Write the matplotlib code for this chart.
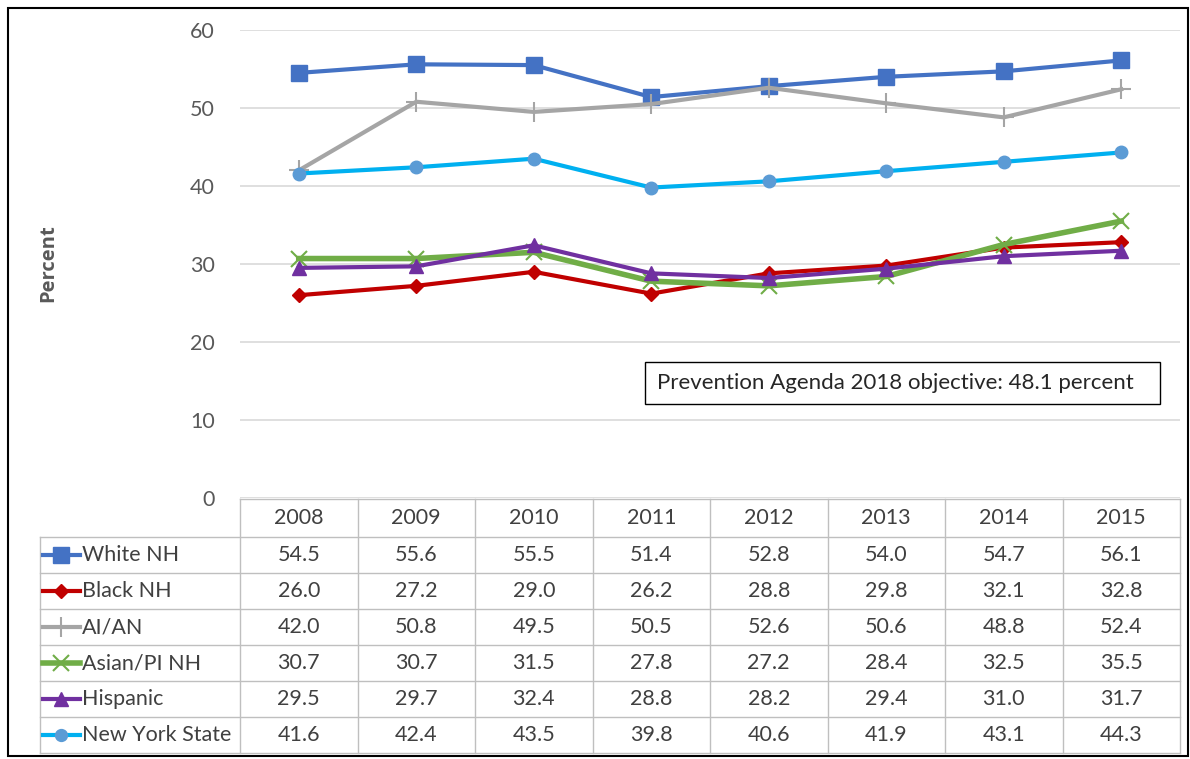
import matplotlib.pyplot as plt
from matplotlib.lines import Line2D
from matplotlib.patches import Rectangle

plt.rcParams['font.family'] = ['Lato', 'DejaVu Sans']

years = ['2008', '2009', '2010', '2011', '2012', '2013', '2014', '2015']
white_nh = [54.5, 55.6, 55.5, 51.4, 52.8, 54.0, 54.7, 56.1]
black_nh = [26.0, 27.2, 29.0, 26.2, 28.8, 29.8, 32.1, 32.8]
ai_an = [42.0, 50.8, 49.5, 50.5, 52.6, 50.6, 48.8, 52.4]
asian_pi_nh = [30.7, 30.7, 31.5, 27.8, 27.2, 28.4, 32.5, 35.5]
hispanic = [29.5, 29.7, 32.4, 28.8, 28.2, 29.4, 31.0, 31.7]
nys = [41.6, 42.4, 43.5, 39.8, 40.6, 41.9, 43.1, 44.3]

series_names = ['White NH', 'Black NH', 'AI/AN', 'Asian/PI NH', 'Hispanic', 'New York State']
series_values = [white_nh, black_nh, ai_an, asian_pi_nh, hispanic, nys]

# line colour, marker, marker colour, marker size, line width
styles = [
    ('#4472C4', 's', '#4472C4', 12, 3.0),
    ('#C00000', 'D', '#C00000', 7, 3.0),
    ('#A5A5A5', '+', '#A5A5A5', 15, 3.0),
    ('#70AD47', 'x', '#70AD47', 12, 4.0),
    ('#7030A0', '^', '#7030A0', 10, 3.0),
    ('#00B0F0', 'o', '#5B9BD5', 9, 3.0),
]

FS = 15.5
W, H = 1190, 759
fig = plt.figure(figsize=(W / 100, H / 100), dpi=100)


def fx(x):
    return x / W


def fy(y):
    return 1 - y / H


# plot area, columns 240..1180 px, value axis 0 at y=498, 60 at y=30
x0, x1 = 240, 1180
y_top, y_zero = 30, 498
ax = fig.add_axes([fx(x0), fy(y_zero), fx(x1) - fx(x0), fy(y_top) - fy(y_zero)])
ax.set_xlim(-0.5, len(years) - 0.5)
ax.set_ylim(0, 60)
ax.set_yticks(range(0, 61, 10))
ax.yaxis.grid(True, color='#D9D9D9', linewidth=1.2)
ax.set_axisbelow(True)
ax.set_xticks([])
for s in ax.spines.values():
    s.set_visible(False)
ax.tick_params(axis='y', length=0, pad=18, labelsize=FS, labelcolor='#595959')

xs = list(range(len(years)))
for vals, (lc, mk, mc, ms, lw) in zip(series_values, styles):
    ax.plot(xs, vals, color=lc, linewidth=lw, marker=mk, markersize=ms,
            markerfacecolor=mc, markeredgecolor=mc,
            markeredgewidth=1.5 if mk in '+x' else 1.0, solid_joinstyle='round',
            clip_on=False)

fig.text(fx(48), fy(263), 'Percent', rotation=90, ha='center', va='center',
         fontsize=14.5, fontweight='bold', color='#595959',
         family=['Open Sans', 'DejaVu Sans'])

# objective note
bx0, bx1, by0, by1 = 645, 1160, 362, 404
fig.patches.append(Rectangle((fx(bx0), fy(by1)), fx(bx1) - fx(bx0), fy(by0) - fy(by1),
                             transform=fig.transFigure, facecolor='white',
                             edgecolor='black', linewidth=1.0))
fig.text(fx(bx0 + 12), fy((by0 + by1) / 2), 'Prevention Agenda 2018 objective: 48.1 percent',
         ha='left', va='center', fontsize=16, color='#262626')

# data table below the plot
grid_c = '#BFBFBF'
head_top, head_bot = 499, 537
row_h = 36
leg_x0 = 40
col_w = (x1 - x0) / len(years)
n_rows = len(series_names)
tab_bot = head_bot + n_rows * row_h


def hline(xa, xb, y):
    fig.add_artist(Line2D([fx(xa), fx(xb)], [fy(y), fy(y)], color=grid_c, linewidth=1.0))


def vline(x, ya, yb):
    fig.add_artist(Line2D([fx(x), fx(x)], [fy(ya), fy(yb)], color=grid_c, linewidth=1.0))


hline(x0, x1, head_top)
for r in range(n_rows + 1):
    hline(leg_x0, x1, head_bot + r * row_h)
vline(leg_x0, head_bot, tab_bot)
for c in range(len(years) + 1):
    vline(x0 + c * col_w, head_top, tab_bot)

txt_c = '#404040'
for c, yr in enumerate(years):
    fig.text(fx(x0 + (c + 0.5) * col_w), fy((head_top + head_bot) / 2), yr,
             ha='center', va='center', fontsize=FS, color=txt_c)

for r, (name, vals, (lc, mk, mc, ms, lw)) in enumerate(zip(series_names, series_values, styles)):
    yc = head_bot + (r + 0.5) * row_h
    fig.add_artist(Line2D([fx(43), fx(80)], [fy(yc), fy(yc)], color=lc, linewidth=lw))
    fig.add_artist(Line2D([fx(61.5)], [fy(yc)], marker=mk, markersize=ms * 0.95,
                          markerfacecolor=mc, markeredgecolor=mc,
                          markeredgewidth=1.5 if mk in '+x' else 1.0, linestyle='none'))
    fig.text(fx(82), fy(yc), name, ha='left', va='center', fontsize=FS, color=txt_c)
    for c, v in enumerate(vals):
        fig.text(fx(x0 + (c + 0.5) * col_w), fy(yc), f'{v:.1f}',
                 ha='center', va='center', fontsize=FS, color=txt_c)

# outer chart frame
fig.patches.append(Rectangle((fx(8), fy(756)), fx(1188) - fx(8), fy(8) - fy(756),
                             transform=fig.transFigure, facecolor='none',
                             edgecolor='black', linewidth=1.5))

fig.savefig('out.png', dpi=100)
